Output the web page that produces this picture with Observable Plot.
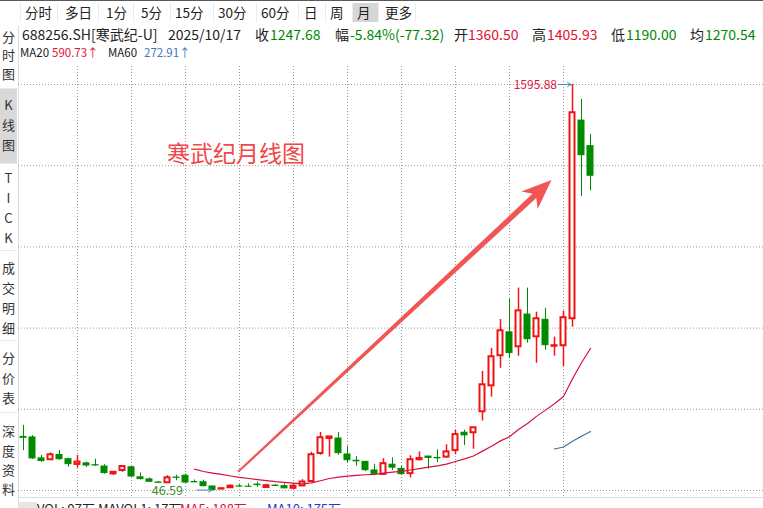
<!DOCTYPE html>
<html><head><meta charset="utf-8">
<script src="https://cdn.jsdelivr.net/npm/d3@7"></script>
<script src="https://cdn.jsdelivr.net/npm/@observablehq/plot@0.6"></script>
<style>
body{margin:0;background:#fff;}
#page{position:relative;width:763px;height:508px;overflow:hidden;background:#fff;font-family:"Noto Sans CJK SC","Noto Sans",sans-serif;color:#222;}
.t{position:absolute;white-space:nowrap;line-height:1;}
.ln{position:absolute;}
#chart{position:absolute;left:18px;top:62px;}
</style></head>
<body><div id="page"></div>
<script>
// ---- data ----
const months = ["2020-07","2020-08","2020-09","2020-10","2020-11","2020-12",
"2021-01","2021-02","2021-03","2021-04","2021-05","2021-06","2021-07","2021-08","2021-09","2021-10","2021-11","2021-12",
"2022-01","2022-02","2022-03","2022-04","2022-05","2022-06","2022-07","2022-08","2022-09","2022-10","2022-11","2022-12",
"2023-01","2023-02","2023-03","2023-04","2023-05","2023-06","2023-07","2023-08","2023-09","2023-10","2023-11","2023-12",
"2024-01","2024-02","2024-03","2024-04","2024-05","2024-06","2024-07","2024-08","2024-09","2024-10","2024-11","2024-12",
"2025-01","2025-02","2025-03","2025-04","2025-05","2025-06","2025-07","2025-08","2025-09","2025-10"];
const opens  = [251,249,169,164,182,166,146,150,143,138,110,123,135,97,89,77,76,96,103,79,78,62,52,57,62,61,69,58,65,63,55,64,81,188,245,245,184,160,156,123,108,145,129,111,164,176,171,174,199,267,267,347,446,561,650,595,718,633,698,597,599,702,1458,1360.50];
const highs  = [295,256,180,190,199,170,180,155,166,145,119,142,139,114,94,81,103,105,110,87,86,62,55,68,69,72,78,70,69,72,72,88,192,268,252,268,216,176,157,146,168,171,139,179,194,177,202,221,276,276,286,501,589,699,777,819,819,727,742,632,731,1595.88,1539,1405.93];
const lows   = [199,165,154,164,162,135,132,135,139,109,104,116,97,87,78,75,76,84,74,76,61,46.59,50,57,61,59,59,55,62,52,51,62,80,181,174,181,151,139,119,108,105,123,104,95,160,128,153,170,183,218,204,312,403,513,550,559,609,532,582,559,520,670,1168,1190.00];
const closes = [248,169,159,183,166,147,155,142,142,113,116,138,100,90,80,76,95,95,77,78,63,48,53.5,63,61.5,60.7,67,65,64,55,63,79,183,248,251,189,162,158,124,110,149,134,109,164,169,171,169.5,194,260,257,286,450,557,656,571,732,624,702,601,599,706,1488,1326,1247.68];
const gridLevels = [46.59, 356.45, 666.31, 976.16, 1286.02, 1595.88];
const gridMonths = ["2021-01","2021-07","2022-01","2022-07","2023-01","2023-07","2024-01","2024-07","2025-01","2025-07"];
const tabs = ["分时","多日","1分","5分","15分","30分","60分","日","周","月","更多"];
const tabX = [25,65,106,141,175,218,261,304,330,357,385];
const infoText = ["688256.SH[寒武纪-U]","2025/10/17","收","1247.68","幅","-5.84%(-77.32)","开","1360.50","高","1405.93","低","1190.00","均","1270.54"];
const infoTone = ["k","k","k","g","k","g","k","r","k","r","k","g","k","g"];
const infoX = [22,168,255,270,335,350,454,468,532,547,611,626,690,705];
const maText = ["MA20","590.73↑","MA60","272.91↑"];
const maTone = ["k","r","k","b"];
const maX = [20,52,108,144];
const sideChars = ["分","时","图","K","线","图","T","I","C","K","成","交","明","细","分","价","表","深","度","资","料"];
const sideY = [37,55,74,105,125,145,178,198,218,238,268,288,308,328,358,378,398,431,451,470,489];
const noteText = "寒武纪月线图";
const noteAt = {i: 23.6, v: 1329};
const arrowFrom = {i: 23.9, v: 116};
const arrowTo = {i: 58.72, v: 1230};

// ---- page chrome ----
const page = document.getElementById("page");
const colors = {k:"#222", r:"#e3102e", g:"#008a00", b:"#3a78bd"};
function add(html){ page.insertAdjacentHTML("beforeend", html); }
add(`<div class="ln" style="left:0;top:0;width:763px;height:1px;background:#5a5a5a"></div>`);
add(`<div class="ln" style="left:352px;top:3px;width:26px;height:19px;background:#d6d6d6"></div>`);
[20,57,98,133,170,213,256,298,325,352,378,415].forEach(x => add(`<div class="ln" style="left:${x}px;top:3px;width:1px;height:19px;background:#ececec"></div>`));
tabs.forEach((s,k) => add(`<div class="t" style="left:${tabX[k]}px;top:6px;font-size:13.5px;color:#222">${s}</div>`));
infoText.forEach((s,k) => add(`<div class="t" style="left:${infoX[k]}px;top:26.5px;font-size:14px;color:${colors[infoTone[k]]}">${s}</div>`));
maText.forEach((s,k) => add(`<div class="t" style="left:${maX[k]}px;top:47px;font-size:11.5px;color:${colors[maTone[k]]}">${s}</div>`));
// sidebar
add(`<div class="ln" style="left:0;top:88px;width:17px;height:75px;background:#d9d9d9"></div>`);
add(`<div class="ln" style="left:18px;top:26px;width:1px;height:482px;background:#dcdcdc"></div>`);
[88,163,250,340,412].forEach(y => add(`<div class="ln" style="left:0;top:${y}px;width:17px;height:1px;background:#e8e8e8"></div>`));
sideChars.forEach((s,k) => add(`<div class="t" style="left:0;width:17px;text-align:center;top:${sideY[k]-7}px;font-size:13px;color:#333">${s}</div>`));
// bottom
add(`<div class="ln" style="left:18px;top:497px;width:745px;height:1px;background:#dddddd"></div>`);
add(`<div class="ln" style="left:18px;top:502px;width:19px;height:6px;background:#e6e6e6"></div>`);
add(`<div class="t" style="left:37px;top:502px;font-size:13px;color:#222">VOL: 97万 MAVOL1: 17万</div>`);
add(`<div class="t" style="left:180px;top:502px;font-size:13px;color:#e3102e">MA5: 188万</div>`);
add(`<div class="t" style="left:267px;top:502px;font-size:13px;color:#1a3ad0">MA10: 175万</div>`);

// ---- chart ----
const rows = months.map((m, i) => ({i, m, o: opens[i], h: highs[i], l: lows[i], c: closes[i]}));
const up = rows.filter(d => d.c >= d.o);
const down = rows.filter(d => d.c < d.o);
const hiRow = rows[d3.maxIndex(highs)];
const loRow = rows[d3.minIndex(lows)];
const RED = "#f21212", GREEN = "#008a00";
const FONT = "Noto Sans CJK SC, Noto Sans, sans-serif";

const plot = Plot.plot({
  width: 745, height: 446,
  marginTop: 4, marginBottom: 11, marginLeft: 0, marginRight: 0,
  style: {background: "transparent", overflow: "visible"},
  x: {domain: [0, months.length - 1], range: [5, 572], axis: null},
  y: {domain: [d3.min(lows), d3.max(highs)], range: [428, 22], axis: null},
  marks: [
    Plot.ruleY(gridLevels, {stroke: "#9c9c9c", strokeDasharray: "1,2"}),
    Plot.ruleX(gridMonths, {x: m => months.indexOf(m), stroke: "#9c9c9c", strokeDasharray: "1,2"}),
    Plot.ruleX(down, {x: "i", y1: "l", y2: "h", stroke: GREEN, strokeWidth: 1}),
    Plot.rect(down, {x1: d => d.i - 0.333, x2: d => d.i + 0.333, y1: "o", y2: "c", fill: GREEN, stroke: GREEN, strokeWidth: 1}),
    Plot.ruleX(up, {x: "i", y1: "l", y2: "h", stroke: RED, strokeWidth: 1.5}),
    Plot.rect(up, {x1: d => d.i - 0.278, x2: d => d.i + 0.278, y1: "o", y2: "c", fill: "white", stroke: RED, strokeWidth: 2}),
    Plot.lineY(rows, Plot.windowY({k: 20, anchor: "end", strict: true, reduce: "mean"}, {x: "i", y: "c", stroke: "#d4103c", strokeWidth: 1.2})),
    Plot.lineY(rows, Plot.windowY({k: 60, anchor: "end", strict: true, reduce: "mean"}, {x: "i", y: "c", stroke: "#3d6fa6", strokeWidth: 1.2})),
    Plot.text([hiRow], {x: "i", y: "h", text: d => d.h.toFixed(2), textAnchor: "end", dx: -15.5, dy: 1, fill: "#e0143c", fontSize: 12, fontFamily: FONT}),
    Plot.arrow([hiRow], {x1: d => d.i - 1.6, x2: d => d.i - 0.15, y1: "h", y2: "h", stroke: "#4a90b8", strokeWidth: 1, headLength: 6}),
    Plot.text([loRow], {x: "i", y: "l", text: d => d.l.toFixed(2), textAnchor: "end", dx: -29.5, fill: "#3f8c2c", fontSize: 12.5, fontFamily: FONT}),
    Plot.arrow([loRow], {x1: d => d.i - 1.72, x2: d => d.i - 0.05, y1: "l", y2: "l", dy: -0.5, stroke: "#3a94b4", strokeWidth: 1, headLength: 6}),
    Plot.text([noteAt], {x: "i", y: "v", text: () => noteText, fill: "#f04848", fontSize: 23, fontFamily: FONT})
  ]
});
plot.id = "chart";
page.appendChild(plot);

// big annotation arrow, placed through the plot's scales
const sx = plot.scale("x"), sy = plot.scale("y");
const p0 = [sx.apply(arrowFrom.i), sy.apply(arrowFrom.v)];
const p1 = [sx.apply(arrowTo.i), sy.apply(arrowTo.v)];
const len = Math.hypot(p1[0]-p0[0], p1[1]-p0[1]);
const d = [(p1[0]-p0[0])/len, (p1[1]-p0[1])/len];
const n = [-d[1], d[0]];
const L = 30, W = 12, neck = 0.78;
const pt = (base, back, side) => [base[0] - d[0]*back + n[0]*side, base[1] - d[1]*back + n[1]*side];
const poly = [pt(p0,0,1), pt(p1,L*neck,2.8), pt(p1,L,W), p1, pt(p1,L,-W), pt(p1,L*neck,-2.8), pt(p0,0,-1)];
d3.select(plot).append("polygon")
  .attr("points", poly.map(p => p.join(",")).join(" "))
  .attr("fill", "#f04848").attr("fill-opacity", 0.92);
</script></body></html>
